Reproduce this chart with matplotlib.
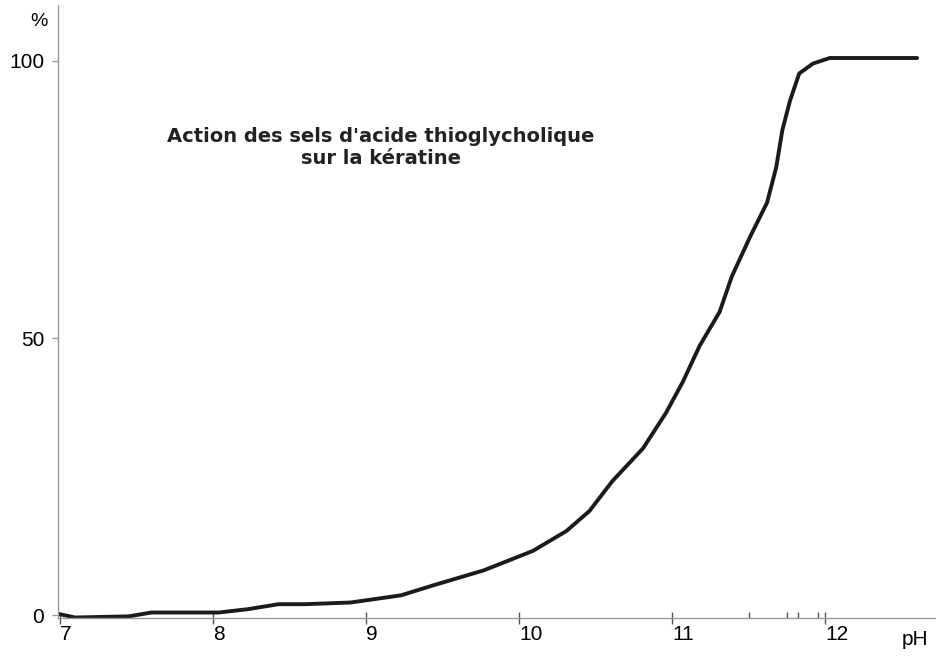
import matplotlib.pyplot as plt

# Données
ph = [7.0, 7.1, 7.45, 7.6, 8.04, 8.23, 8.43, 8.6, 8.9, 9.23, 9.44, 9.77, 10.09, 10.31,
      10.46, 10.61, 10.81, 10.96, 11.07, 11.18, 11.31, 11.39, 11.51, 11.62, 11.68,
      11.72, 11.77, 11.83, 11.92, 12.03, 12.6]
pct = [0.2, -0.4, -0.2, 0.5, 0.5, 1.1, 2.0, 2.0, 2.3, 3.6, 5.4, 8.1, 11.6, 15.2,
       18.8, 24.2, 30.1, 36.5, 42.1, 48.6, 54.7, 61.1, 68.3, 74.4, 80.8,
       87.5, 92.8, 97.7, 99.5, 100.5, 100.5]

xticks = [7, 8, 9, 10, 11, 12]
xminor = [11.5, 11.75, 11.82, 11.95]
yticks = [0, 50, 100]

plt.rcParams['font.family'] = ['Liberation Sans', 'DejaVu Sans']

fig = plt.figure(figsize=(9.37, 6.66), dpi=100)
ax = fig.add_axes([0.062, 0.072, 0.938, 0.92])

ax.plot(ph, pct, color='#1a1a22', linewidth=2.8, solid_capstyle='round',
        solid_joinstyle='round')

ax.set_xlim(6.99, 12.73)
ax.set_ylim(-0.5, 110)

for s in ['top', 'right']:
    ax.spines[s].set_visible(False)
for s in ['left', 'bottom']:
    ax.spines[s].set_color('#9a9a9a')
    ax.spines[s].set_linewidth(1.0)

ax.set_xticks(xticks)
ax.set_xticklabels([str(v) for v in xticks])
ax.set_xticks(xminor, minor=True)
ax.set_yticks(yticks)
ax.tick_params(axis='x', which='major', direction='inout', length=8, width=1,
               color='#555555', labelsize=15, pad=1)
ax.tick_params(axis='x', which='minor', direction='in', length=4, width=1, color='#555555')
ax.tick_params(axis='y', direction='out', length=4, width=1, color='#9a9a9a',
               labelsize=15, pad=6)
for lab in ax.get_xticklabels():
    lab.set_horizontalalignment('left')

ax.text(-0.022, 0.988, '%', transform=ax.transAxes, fontsize=14, ha='center', va='top')
ax.text(0.975, -0.02, 'pH', transform=ax.transAxes, fontsize=15, ha='center', va='top')

ax.text(0.367, 0.768, "Action des sels d'acide thioglycholique\nsur la kératine",
        transform=ax.transAxes, fontsize=14, fontweight='bold', ha='center', va='center',
        linespacing=1.2, color='#222222', family='DejaVu Sans')

fig.savefig('out.png', dpi=100)
